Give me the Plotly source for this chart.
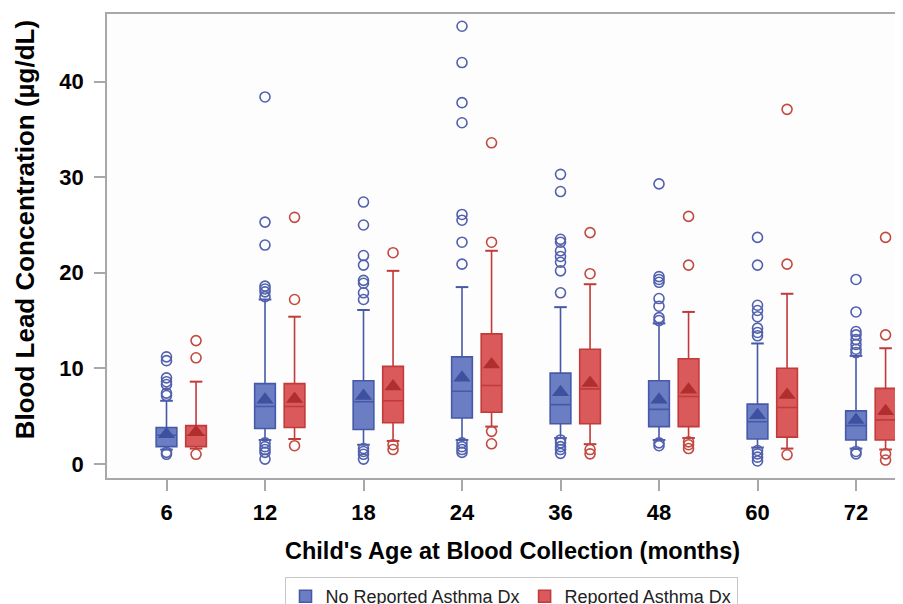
import plotly.graph_objects as go

ages = ["6", "12", "18", "24", "36", "48", "60", "72"]

# No Reported Asthma Dx
no_q1 = [1.8, 3.7, 3.6, 4.8, 4.2, 3.9, 2.6, 2.5]
no_med = [3.0, 6.0, 6.5, 7.6, 6.2, 5.7, 4.4, 4.0]
no_q3 = [3.8, 8.4, 8.7, 11.2, 9.5, 8.7, 6.25, 5.55]
no_mean = [3.1, 6.7, 7.1, 9.0, 7.5, 6.7, 5.1, 4.6]
no_hi = [6.6, 17.2, 16.1, 18.5, 16.4, 14.7, 12.6, 11.3]
no_lo = [1.5, 2.5, 2.0, 2.5, 2.7, 2.5, 1.7, 1.6]
no_out = [
    [11.2, 10.8, 9.0, 8.6, 8.3, 7.4, 7.15, 1.2, 1.0],
    [38.4, 25.3, 22.9, 18.6, 18.3, 18.0, 17.5, 2.2, 1.8, 1.5, 1.2, 0.5],
    [27.4, 25.0, 21.8, 20.8, 19.2, 18.9, 17.9, 17.2, 1.6, 1.3, 1.0, 0.5],
    [45.8, 42.0, 37.8, 35.7, 26.1, 25.5, 23.2, 20.9, 2.2, 1.8, 1.5, 1.2],
    [30.3, 28.5, 23.5, 23.2, 22.3, 21.7, 21.1, 20.2, 17.9, 2.5, 2.2, 1.8, 1.5, 1.1],
    [29.3, 19.6, 19.3, 19.0, 17.3, 16.5, 15.3, 15.0, 2.2, 1.9],
    [23.7, 20.8, 16.6, 16.05, 15.4, 14.2, 13.75, 13.4, 1.4, 1.05, 0.7, 0.3],
    [19.3, 15.9, 13.85, 13.5, 13.0, 12.5, 12.0, 11.65, 1.3, 1.05],
]

# Reported Asthma Dx
as_q1 = [1.8, 3.8, 4.3, 5.4, 4.2, 3.9, 2.8, 2.5]
as_med = [3.0, 6.0, 6.6, 8.2, 7.85, 7.05, 5.9, 4.6]
as_q3 = [4.0, 8.4, 10.2, 13.6, 12.0, 11.0, 10.0, 7.9]
as_mean = [3.3, 6.8, 8.1, 10.4, 8.45, 7.75, 7.2, 5.5]
as_hi = [8.6, 15.4, 20.2, 22.3, 18.8, 15.9, 17.8, 12.1]
as_lo = [1.6, 2.6, 2.4, 3.9, 2.06, 2.7, 1.6, 1.5]
as_out = [
    [12.9, 11.1, 1.0],
    [25.8, 17.2, 1.9],
    [22.1, 2.0, 1.5],
    [33.6, 23.2, 3.4, 2.1],
    [24.2, 19.9, 1.5, 1.05],
    [25.9, 20.8, 2.3, 2.0, 1.6],
    [37.1, 20.9, 0.95],
    [23.7, 13.5, 1.05, 0.4],
]

OFFSET = 0.3
BOXW = 0.21
FONT = "Liberation Sans, Arial, sans-serif"

groups = [
    dict(name="No Reported Asthma Dx", q1=no_q1, med=no_med, q3=no_q3, mean=no_mean,
         hi=no_hi, lo=no_lo, out=no_out, off=0.0,
         fill="#6b7ec3", line="#4659a9", dark="#3d519e", pt="#5161ad"),
    dict(name="Reported Asthma Dx", q1=as_q1, med=as_med, q3=as_q3, mean=as_mean,
         hi=as_hi, lo=as_lo, out=as_out, off=OFFSET,
         fill="#da5a5b", line="#c23a3a", dark="#b02e2e", pt="#c24a40"),
]

fig = go.Figure()
for g in groups:
    xs = [i + g["off"] for i in range(len(ages))]
    fig.add_trace(go.Box(
        name=g["name"], x=xs, q1=g["q1"], median=g["med"], q3=g["q3"],
        lowerfence=g["lo"], upperfence=g["hi"],
        width=BOXW, fillcolor=g["fill"], line=dict(color=g["line"], width=1.6),
        whiskerwidth=0, boxpoints=False, hoverinfo="skip", showlegend=True,
    ))
    # whisker caps
    fig.add_trace(go.Scatter(
        x=xs + xs, y=g["hi"] + g["lo"], mode="markers", showlegend=False, hoverinfo="skip",
        marker=dict(symbol="line-ew", size=9, line=dict(color=g["line"], width=2)),
    ))
    # means
    fig.add_trace(go.Scatter(
        x=xs, y=g["mean"], mode="markers", showlegend=False, hoverinfo="skip",
        marker=dict(symbol="triangle-up", size=15, color=g["dark"], line=dict(width=0)),
    ))
    # outliers
    ox, oy = [], []
    for i, vals in enumerate(g["out"]):
        for v in vals:
            ox.append(i + g["off"])
            oy.append(v)
    fig.add_trace(go.Scatter(
        x=ox, y=oy, mode="markers", showlegend=False, hoverinfo="skip",
        marker=dict(symbol="circle-open", size=10, color=g["pt"], line=dict(width=1.6, color=g["pt"])),
    ))

AX = "#a8a8a8"
W, H = 895, 596  # page body adds an 8px margin at left/top
fig.update_layout(
    width=W, height=H,
    margin=dict(l=98.5, r=0, t=6, b=125.5, autoexpand=False),
    paper_bgcolor="white", plot_bgcolor="#fdfdfd",
    font=dict(family=FONT, color="black"),
    xaxis=dict(
        range=[-0.604, 7.477], tickvals=list(range(len(ages))), ticktext=ages,
        showgrid=False, zeroline=False, showline=True, linecolor=AX, linewidth=1.5, mirror=True,
        ticks="outside", ticklen=11, tickcolor=AX, tickwidth=1.5,
        tickfont=dict(size=22, family=FONT, weight="bold", color="black"),
        ticklabelstandoff=3, automargin=False,
    ),
    yaxis=dict(
        range=[-1.48, 47.08], tickvals=[0, 10, 20, 30, 40],
        showgrid=False, zeroline=False, showline=True, linecolor=AX, linewidth=1.5,
        ticks="outside", ticklen=11, tickcolor=AX, tickwidth=1.5,
        tickfont=dict(size=22, family=FONT, weight="bold", color="black"),
        ticklabelstandoff=6, automargin=False,
    ),
    legend=dict(
        orientation="h", xref="container", yref="container",
        x=503 / W, xanchor="center", y=1 - 569 / H, yanchor="top",
        bordercolor="#c8c8c8", borderwidth=1, bgcolor="white",
        font=dict(size=18, family=FONT, color="#222"),
        tracegroupgap=0, itemwidth=30,
    ),
    annotations=[
        dict(text="Child's Age at Blood Collection (months)", xref="paper", yref="paper",
             x=(512 - 106.5) / 796.5, y=(478.5 - 552) / 464.5, xanchor="center", yanchor="middle",
             showarrow=False, font=dict(size=23.5, family=FONT, weight="bold", color="black")),
        dict(text="Blood Lead Concentration (µg/dL)", xref="paper", yref="paper",
             x=(24 - 106.5) / 796.5, y=(478.5 - 230) / 464.5, xanchor="center", yanchor="middle",
             textangle=-90, showarrow=False,
             font=dict(size=26, family=FONT, weight="bold", color="black")),
    ],
)

fig.write_html("out.html")
